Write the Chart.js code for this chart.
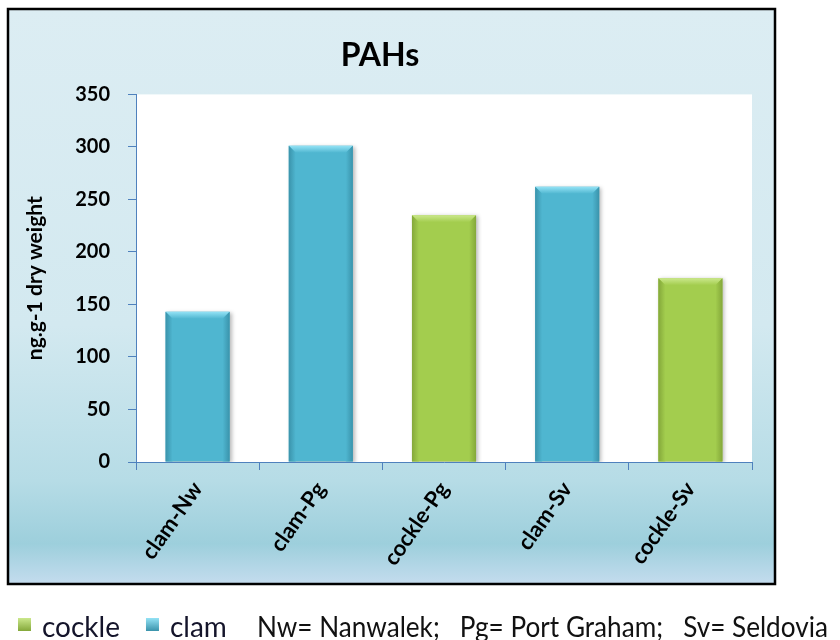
<!DOCTYPE html>
<html>
<head>
<meta charset="utf-8">
<script src="https://cdn.jsdelivr.net/npm/chart.js@4.4.1/dist/chart.umd.min.js"></script>
<style>
  html, body { margin: 0; padding: 0; background: #ffffff; }
  #wrap { width: 840px; height: 640px; }
</style>
</head>
<body>
<div id="wrap"><canvas id="chart" width="840" height="640"></canvas></div>
<script>
// data
const categories = ['clam-Nw', 'clam-Pg', 'cockle-Pg', 'clam-Sv', 'cockle-Sv'];
const cockleValues = [null, null, 235, null, 175];
const clamValues = [143, 301, null, 262, null];
const yMax = 350;
const yStep = 50;
const chartTitle = 'PAHs';
const yTitle = 'ng.g-1 dry weight';
const siteNote = 'Nw= Nanwalek;   Pg= Port Graham;   Sv= Seldovia';

const FONT = 'Lato, "Open Sans", sans-serif';
const AXIS_BLUE = '#4f81bd';

// colours per series: face, top bevel, side shade
const palette = {
  cockle: { face: '#a3cd4e', light: '#cbe88c', dark: '#84a83a' },
  clam: { face: '#4fb6d0', light: '#93e2f5', dark: '#3a93ab' }
};

// light blue frame behind the whole chart, white plot area
const framePlugin = {
  id: 'frame',
  beforeDraw(chart) {
    const { ctx, chartArea } = chart;
    ctx.save();
    const g = ctx.createLinearGradient(0, 9, 0, 584);
    g.addColorStop(0, '#dcedf3');
    g.addColorStop(0.55, '#d3e9f0');
    g.addColorStop(0.82, '#b6dce6');
    g.addColorStop(0.93, '#9dcfdc');
    g.addColorStop(1, '#c4dcee');
    ctx.fillStyle = g;
    ctx.fillRect(8, 9, 767, 575);
    ctx.fillStyle = '#ffffff';
    ctx.fillRect(chartArea.left, chartArea.top, chartArea.right - chartArea.left, chartArea.bottom - chartArea.top);
    ctx.restore();
  },
  beforeDatasetsDraw(chart) {
    const ctx = chart.ctx;
    ctx.save();
    ctx.shadowColor = 'rgba(0,0,0,0.28)';
    ctx.shadowBlur = 4;
    ctx.shadowOffsetX = 2;
    ctx.shadowOffsetY = 1;
  },
  afterDatasetsDraw(chart) {
    const ctx = chart.ctx;
    ctx.restore();
    // bevel on every bar, placed from the bar elements
    chart.data.datasets.forEach((ds, i) => {
      const meta = chart.getDatasetMeta(i);
      const col = palette[ds.label];
      meta.data.forEach((bar, j) => {
        if (ds.data[j] == null) return;
        const { x, y, base, width } = bar.getProps(['x', 'y', 'base', 'width'], true);
        const l = x - width / 2, r = x + width / 2, b = 7;
        ctx.save();
        const gt = ctx.createLinearGradient(0, y, 0, y + b);
        gt.addColorStop(0, col.light);
        gt.addColorStop(1, col.face);
        ctx.fillStyle = gt;
        ctx.beginPath();
        ctx.moveTo(l, y); ctx.lineTo(r, y); ctx.lineTo(r - b, y + b); ctx.lineTo(l + b, y + b);
        ctx.closePath(); ctx.fill();
        const gr = ctx.createLinearGradient(r - b, 0, r, 0);
        gr.addColorStop(0, col.face);
        gr.addColorStop(1, col.dark);
        ctx.fillStyle = gr;
        ctx.beginPath();
        ctx.moveTo(r, y); ctx.lineTo(r, base); ctx.lineTo(r - b, base); ctx.lineTo(r - b, y + b);
        ctx.closePath(); ctx.fill();
        const gl = ctx.createLinearGradient(l, 0, l + b, 0);
        gl.addColorStop(0, col.dark);
        gl.addColorStop(1, col.face);
        ctx.fillStyle = gl;
        ctx.beginPath();
        ctx.moveTo(l, y); ctx.lineTo(l + b, y + b); ctx.lineTo(l + b, base); ctx.lineTo(l, base);
        ctx.closePath(); ctx.fill();
        ctx.restore();
      });
    });
  },
  afterDraw(chart) {
    const ctx = chart.ctx;
    ctx.save();
    ctx.strokeStyle = '#000000';
    ctx.lineWidth = 2.5;
    ctx.strokeRect(8, 9, 767, 575);

    // legend + site note under the frame
    ctx.font = '28px ' + FONT;
    ctx.textBaseline = 'alphabetic';
    let x = 18;
    const baseY = 637;
    chart.data.datasets.forEach(ds => {
      const col = palette[ds.label];
      const g = ctx.createLinearGradient(0, 618, 0, 631);
      g.addColorStop(0, col.light);
      g.addColorStop(1, col.dark);
      ctx.fillStyle = g;
      ctx.fillRect(x, 618, 13, 13);
      ctx.fillStyle = '#14142a';
      ctx.fillText(ds.label, x + 24, baseY);
      x += 24 + ctx.measureText(ds.label).width + 26;
    });
    ctx.fillStyle = '#111111';
    ctx.fillText(siteNote, 257, baseY, 571);
    ctx.restore();
  }
};

new Chart(document.getElementById('chart'), {
  type: 'bar',
  data: {
    labels: categories,
    datasets: [
      { label: 'cockle', data: cockleValues, backgroundColor: palette.cockle.face },
      { label: 'clam', data: clamValues, backgroundColor: palette.clam.face }
    ]
  },
  options: {
    responsive: false,
    animation: false,
    layout: { padding: { top: 28, left: 8, right: 88, bottom: 0 } },
    datasets: { bar: { categoryPercentage: 1, barPercentage: 0.52, skipNull: true } },
    plugins: {
      legend: { display: false },
      tooltip: { enabled: false },
      title: {
        display: true,
        text: chartTitle,
        color: '#000000',
        font: { family: FONT, size: 32, weight: 'bold' },
        padding: { top: 8, bottom: 20 }
      }
    },
    scales: {
      x: {
        stacked: true,
        afterFit: s => { s.height = 178; },
        border: { color: AXIS_BLUE, width: 1 },
        grid: { drawOnChartArea: false, drawTicks: true, tickLength: 8, tickColor: AXIS_BLUE, offset: true },
        ticks: {
          color: '#000000',
          autoSkip: false,
          minRotation: 55,
          maxRotation: 55,
          padding: 7,
          font: { family: FONT, size: 22, weight: 'bold' }
        }
      },
      y: {
        stacked: true,
        min: 0,
        max: yMax,
        afterFit: s => { s.width = 128; },
        border: { color: AXIS_BLUE, width: 1 },
        grid: { drawOnChartArea: false, drawTicks: true, tickLength: 8, tickColor: AXIS_BLUE },
        ticks: {
          stepSize: yStep,
          color: '#000000',
          padding: 18,
          font: { family: FONT, size: 20, weight: 'bold' }
        },
        title: {
          display: true,
          text: yTitle,
          color: '#000000',
          font: { family: FONT, size: 21, weight: 'bold' },
          padding: { top: 15, bottom: 0 }
        }
      }
    }
  },
  plugins: [framePlugin]
});
</script>
</body>
</html>
